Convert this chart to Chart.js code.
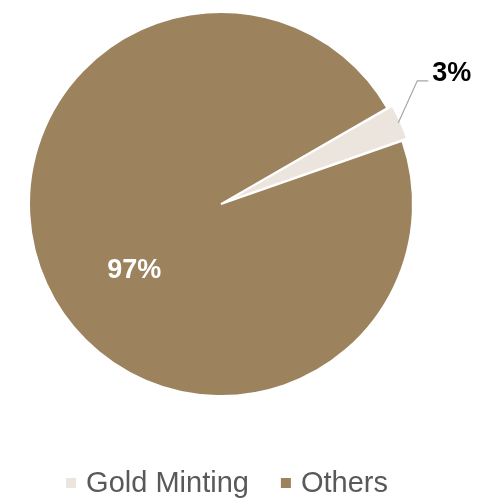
<!DOCTYPE html>
<html>
<head>
<meta charset="utf-8">
<script src="https://cdn.jsdelivr.net/npm/chart.js@4.4.1/dist/chart.umd.min.js"></script>
<style>
  html, body { margin: 0; padding: 0; background: #fff; }
  #wrap { width: 477px; height: 498px; position: relative; }
</style>
</head>
<body>
<div id="wrap"><canvas id="pie"></canvas></div>
<script>
const categories = ['Gold Minting', 'Others'];
const shares = [3, 97];
const shareLabels = ['3%', '97%'];
const sliceColors = ['#EBE5DE', '#9C835E'];

const FONT = '"Liberation Sans", Arial, sans-serif';

// labels: 3% sits outside with a leader line, 97% inside the big slice
const pieLabels = {
  id: 'pieLabels',
  afterDatasetsDraw(chart) {
    const ctx = chart.ctx;
    const arcs = chart.getDatasetMeta(0).data;
    ctx.save();
    ctx.font = 'bold 27px ' + FONT;
    ctx.textBaseline = 'middle';

    // small slice
    const a = arcs[0];
    const mid = (a.startAngle + a.endAngle) / 2;
    const r = a.outerRadius + 3;
    const sx = a.x + Math.cos(mid) * r;
    const sy = a.y + Math.sin(mid) * r;
    const ex = sx + 19, ey = sy - 42;
    ctx.strokeStyle = '#A6A6A6';
    ctx.lineWidth = 1.2;
    ctx.beginPath();
    ctx.moveTo(sx, sy);
    ctx.lineTo(ex, ey);
    ctx.lineTo(ex + 11, ey);
    ctx.stroke();
    ctx.fillStyle = '#000';
    ctx.textAlign = 'left';
    ctx.fillText(shareLabels[0], ex + 15, ey - 7);

    // big slice
    const b = arcs[1];
    const bm = (b.startAngle + b.endAngle) / 2 - 13 * Math.PI / 180;
    const br = b.outerRadius * 0.57;
    ctx.fillStyle = '#fff';
    ctx.textAlign = 'center';
    ctx.fillText(shareLabels[1], b.x + Math.cos(bm) * br, b.y + Math.sin(bm) * br);
    ctx.restore();
  }
};

// legend drawn at the bottom, boxes + grey text
const bottomLegend = {
  id: 'bottomLegend',
  afterDraw(chart) {
    const ctx = chart.ctx;
    const box = 10, gap = 10, itemGap = 32;
    const centerX = 227, midY = 483;
    ctx.save();
    ctx.font = '29px ' + FONT;
    const widths = categories.map(c => ctx.measureText(c).width);
    let total = 0;
    widths.forEach((w, i) => { total += box + gap + w + (i > 0 ? itemGap : 0); });
    let x = centerX - total / 2;
    ctx.textBaseline = 'middle';
    ctx.textAlign = 'left';
    categories.forEach((c, i) => {
      ctx.fillStyle = sliceColors[i];
      ctx.fillRect(x, midY - box / 2, box, box);
      ctx.fillStyle = '#595959';
      ctx.fillText(c, x + box + gap, midY + 1);
      x += box + gap + widths[i] + itemGap;
    });
    ctx.restore();
  }
};

new Chart(document.getElementById('pie'), {
  type: 'pie',
  data: {
    labels: categories,
    datasets: [{
      data: shares,
      backgroundColor: sliceColors,
      borderColor: '#fff',
      borderWidth: 2,
      offset: [12, 0],
      hoverOffset: 0
    }]
  },
  options: {
    responsive: true,
    maintainAspectRatio: false,
    animation: false,
    rotation: 60,
    layout: { padding: { top: 5, left: 22, right: 57, bottom: 95 } },
    plugins: {
      legend: { display: false },
      tooltip: { enabled: false }
    }
  },
  plugins: [pieLabels, bottomLegend]
});
</script>
</body>
</html>
